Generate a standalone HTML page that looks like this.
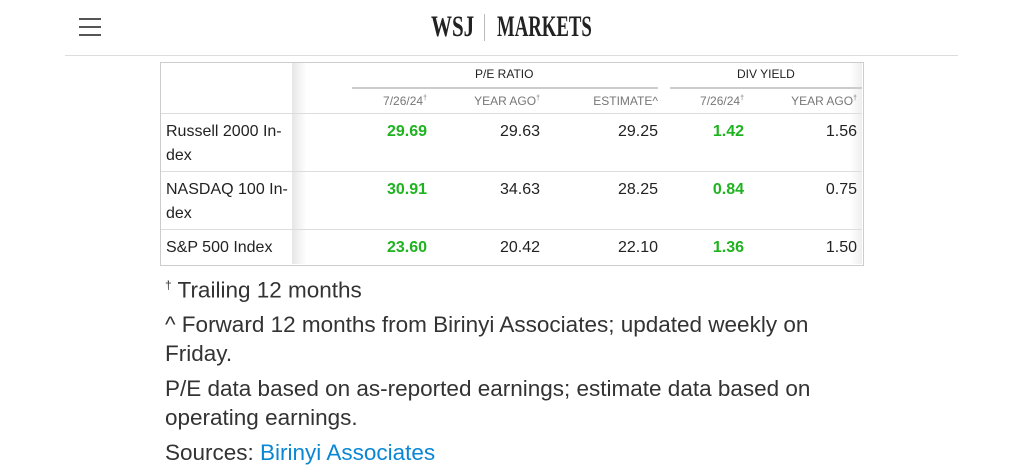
<!DOCTYPE html>
<html><head><style>
body{margin:0;width:1024px;height:473px;background:#fff;position:relative;overflow:hidden;font-family:"Liberation Sans",sans-serif;color:#222}
.a{position:absolute;white-space:nowrap}
.hb{position:absolute;left:79px;width:22px;height:2px;background:#555}
.r{position:absolute;text-align:right;font-size:16px;width:100px}
.g{color:#1fb31f;font-weight:bold}
.sh{position:absolute;text-align:right;font-size:12px;color:#777;width:110px;top:94px}
.ln{position:absolute;height:1px;background:#ddd}
.lb{position:absolute;left:166px;font-size:16px;line-height:24px}
.f{position:absolute;left:165px;font-size:22.5px;line-height:29px;color:#333}
</style></head><body>
<div class="hb" style="top:18px"></div><div class="hb" style="top:26px"></div><div class="hb" style="top:34px"></div>
<div class="a" style="left:431px;top:10px;font-family:'Liberation Serif',serif;font-weight:bold;font-size:30px;transform:scaleX(0.70);transform-origin:left;color:#222">WSJ</div>
<div class="a" style="left:484px;top:14px;width:1px;height:27px;background:#bbb"></div>
<div class="a" style="left:497px;top:10px;font-family:'Liberation Serif',serif;font-weight:bold;font-size:30px;transform:scaleX(0.625);transform-origin:left;color:#222">MARKETS</div>
<div class="a" style="left:65px;top:55px;width:893px;height:1px;background:#ddd"></div>
<div class="a" style="left:160px;top:62px;width:702px;height:202px;border:1px solid #ccc"></div>
<div class="a" style="left:292px;top:63px;width:14px;height:201px;background:linear-gradient(to right,#e6e6e6,#fff)"></div>
<div class="a" style="left:850px;top:63px;width:12px;height:201px;background:linear-gradient(to left,#eee,#fff)"></div>
<div class="a" style="left:475px;top:67px;font-size:12px;color:#222">P/E RATIO</div>
<div class="a" style="left:737px;top:67px;font-size:12px;color:#222">DIV YIELD</div>
<div class="a" style="left:352px;top:87px;width:306px;height:2px;background:#ccc"></div>
<div class="a" style="left:670px;top:87px;width:192px;height:2px;background:#ccc"></div>
<div class="sh" style="left:317px">7/26/24<sup style="font-size:7px">†</sup></div>
<div class="sh" style="left:430px">YEAR AGO<sup style="font-size:7px">†</sup></div>
<div class="sh" style="left:548px">ESTIMATE^</div>
<div class="sh" style="left:634px">7/26/24<sup style="font-size:7px">†</sup></div>
<div class="sh" style="left:747px">YEAR AGO<sup style="font-size:7px">†</sup></div>
<div class="ln" style="left:161px;top:113px;width:701px"></div>
<div class="ln" style="left:161px;top:171px;width:701px"></div>
<div class="ln" style="left:161px;top:229px;width:701px"></div>
<div class="lb" style="top:120px">Russell 2000 In-<br>dex</div>
<div class="lb" style="top:178px">NASDAQ 100 In-<br>dex</div>
<div class="lb" style="top:236px">S&amp;P 500 Index</div>
<div class="r g" style="left:327px;top:123px">29.69</div><div class="r" style="left:440px;top:123px">29.63</div><div class="r" style="left:558px;top:123px">29.25</div><div class="r g" style="left:644px;top:123px">1.42</div><div class="r" style="left:757px;top:123px">1.56</div>
<div class="r g" style="left:327px;top:181px">30.91</div><div class="r" style="left:440px;top:181px">34.63</div><div class="r" style="left:558px;top:181px">28.25</div><div class="r g" style="left:644px;top:181px">0.84</div><div class="r" style="left:757px;top:181px">0.75</div>
<div class="r g" style="left:327px;top:239px">23.60</div><div class="r" style="left:440px;top:239px">20.42</div><div class="r" style="left:558px;top:239px">22.10</div><div class="r g" style="left:644px;top:239px">1.36</div><div class="r" style="left:757px;top:239px">1.50</div>
<div class="f" style="top:271px"><sup style="font-size:12px">†</sup> Trailing 12 months</div>
<div class="f" style="top:310px">^ Forward 12 months from Birinyi Associates; updated weekly on<br>Friday.</div>
<div class="f" style="top:374px">P/E data based on as-reported earnings; estimate data based on<br>operating earnings.</div>
<div class="f" style="top:438px">Sources: <span style="color:#0a87d4">Birinyi Associates</span></div>
</body></html>
